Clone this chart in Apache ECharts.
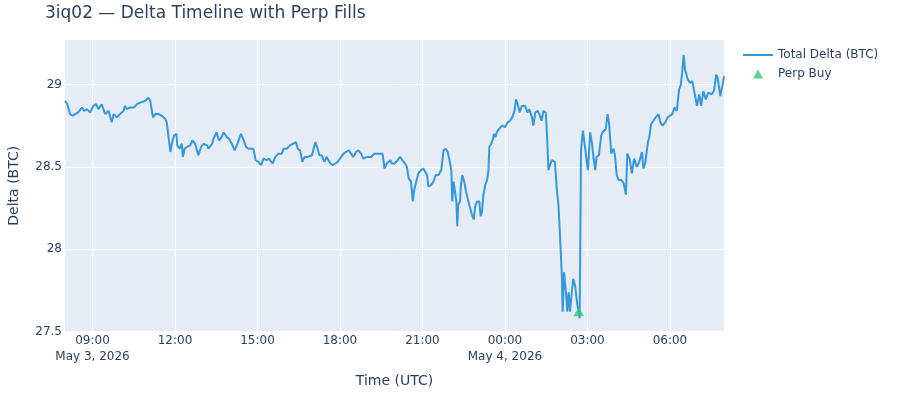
<!DOCTYPE html>
<html lang="en">
<head>
<meta charset="UTF-8">
<title>3iq02 — Delta Timeline with Perp Fills</title>
<script src="https://cdn.jsdelivr.net/npm/echarts@6/dist/echarts.min.js"></script>
<style>
  html, body { margin: 0; padding: 0; background: #fff; }
  #chart { width: 900px; height: 400px; }
</style>
</head>
<body>
<div id="chart"></div>
<script>
// total delta readings, May 3 2026 (UTC)
var may3Times = [
  '08:00','08:05','08:11','08:17','08:22','08:29','08:37','08:42','08:48','08:55',
  '09:02','09:08','09:13','09:20','09:24','09:28','09:35','09:39','09:42','09:46','09:53',
  '10:00','10:08','10:11','10:15','10:22','10:30','10:37','10:44','10:48','10:55',
  '11:02','11:06','11:12','11:17','11:24','11:31','11:39','11:42','11:46','11:50','11:53','11:58',
  '12:03','12:05','12:10','12:15','12:17','12:21','12:26','12:33','12:38','12:44','12:51','12:57',
  '13:02','13:10','13:13','13:21','13:24','13:31','13:36','13:42','13:46','13:53','13:58',
  '14:04','14:10','14:15','14:19','14:24','14:29','14:35','14:40','14:51','14:56',
  '15:02','15:08','15:13','15:20','15:25','15:33','15:39','15:46','15:53','15:57',
  '16:04','16:11','16:18','16:24','16:28','16:33','16:38','16:43','16:50','16:59',
  '17:06','17:10','17:15','17:20','17:26','17:31','17:39','17:44','17:50','17:55',
  '18:00','18:08','18:13','18:19','18:24','18:29','18:35','18:40','18:46','18:51','18:59',
  '19:08','19:15','19:24','19:33','19:37','19:42','19:50','19:53','19:59',
  '20:06','20:11','20:16','20:22','20:26','20:30','20:33','20:35','20:39','20:42','20:46','20:51','20:57',
  '21:02','21:06','21:10','21:13','21:19','21:24','21:29','21:35','21:41','21:46','21:51','21:55','21:59',
  '22:03','22:05','22:08','22:11','22:14','22:16','22:18','22:22','22:24','22:27','22:32','22:35','22:39',
  '22:42','22:48','22:52','22:55','22:59',
  '23:04','23:07','23:10','23:13','23:17','23:21','23:24','23:26','23:30','23:33','23:36','23:39',
  '23:42','23:46','23:50','23:55'
];
var may3Delta = [
  28.90,28.88,28.82,28.81,28.82,28.83,28.86,28.84,28.85,28.83,
  28.87,28.88,28.85,28.88,28.85,28.82,28.84,28.80,28.77,28.82,28.80,
  28.82,28.84,28.87,28.85,28.86,28.86,28.88,28.89,28.88,28.90,
  28.92,28.90,28.80,28.82,28.82,28.81,28.79,28.77,28.76,28.59,28.64,28.69,
  28.70,28.63,28.61,28.64,28.56,28.61,28.62,28.63,28.66,28.64,28.57,28.62,
  28.64,28.63,28.61,28.64,28.67,28.71,28.66,28.68,28.71,28.68,28.67,
  28.64,28.60,28.63,28.62,28.70,28.67,28.62,28.61,28.61,28.54,
  28.53,28.51,28.55,28.54,28.55,28.52,28.56,28.58,28.58,28.61,
  28.61,28.63,28.64,28.65,28.61,28.60,28.53,28.56,28.56,28.57,
  28.65,28.62,28.57,28.57,28.53,28.56,28.52,28.51,28.52,28.53,
  28.55,28.58,28.59,28.60,28.58,28.56,28.59,28.60,28.58,28.55,28.56,
  28.56,28.58,28.58,28.58,28.49,28.52,28.54,28.52,28.52,
  28.54,28.56,28.54,28.52,28.50,28.43,28.42,28.41,28.29,28.36,28.37,28.46,28.48,
  28.49,28.50,28.45,28.38,28.39,28.41,28.45,28.45,28.48,28.60,28.61,28.59,28.54,
  28.48,28.29,28.41,28.42,28.29,28.14,28.27,28.29,28.39,28.45,28.40,28.35,28.34,
  28.27,28.21,28.18,28.26,28.29,
  28.29,28.20,28.23,28.33,28.39,28.42,28.48,28.62,28.64,28.66,28.70,28.68,
  28.71,28.72,28.74,28.75
];
// total delta readings, May 4 2026 (UTC)
var may4Times = [
  '00:00','00:06','00:11','00:16','00:21','00:24','00:28','00:32','00:37','00:39','00:44','00:49','00:53','00:59',
  '01:02','01:06','01:11','01:15','01:20','01:24','01:29','01:31','01:35','01:39','01:42','01:46','01:49','01:53','01:57',
  '02:00','02:04','02:06','02:09','02:13','02:16','02:19','02:22','02:26','02:29','02:33','02:35','02:38','02:41','02:43',
  '02:46','02:50','02:53','02:56',
  '03:01','03:06','03:10','03:13','03:17','03:20','03:25','03:30','03:33','03:37','03:40','03:44','03:47','03:52','03:57',
  '04:00','04:04','04:08','04:14','04:19','04:24','04:27','04:32','04:37','04:42','04:48','04:53','04:59',
  '05:02','05:06','05:12','05:15','05:19','05:24','05:29','05:35','05:39','05:44','05:50','05:55',
  '06:00','06:05','06:10','06:15','06:20','06:24','06:27','06:30','06:33','06:39','06:44','06:49','06:55','06:59',
  '07:04','07:08','07:13','07:18','07:24','07:31','07:36','07:41','07:44','07:50','07:53','07:57','07:58'
];
var may4Delta = [
  28.74,28.77,28.78,28.80,28.84,28.91,28.88,28.83,28.87,28.88,28.87,28.83,28.85,28.80,
  28.75,28.83,28.84,28.82,28.78,28.84,28.83,28.74,28.48,28.47,28.54,28.55,28.53,28.37,28.26,
  28.09,27.85,27.62,27.86,27.74,27.62,27.74,27.62,27.74,27.82,27.78,27.79,27.66,27.62,27.58,
  28.60,28.72,28.73,28.59,
  28.48,28.71,28.64,28.56,28.48,28.56,28.57,28.69,28.71,28.70,28.73,28.82,28.77,28.58,28.61,
  28.57,28.45,28.42,28.42,28.40,28.33,28.58,28.55,28.46,28.55,28.50,28.53,28.59,
  28.49,28.52,28.65,28.68,28.76,28.78,28.80,28.82,28.77,28.75,28.77,28.80,
  28.81,28.82,28.86,28.84,28.97,29.00,29.08,29.18,29.09,29.03,29.01,29.02,28.93,28.87,
  28.94,28.87,28.96,28.91,28.95,28.94,28.96,29.06,29.04,28.93,28.92,29.03,29.05
];
// perp fills
var perpBuyTimes = ['2026-05-04 02:41'];
var perpBuyDelta = [27.62];

var xTickTimes = [
  '2026-05-03 09:00','2026-05-03 12:00','2026-05-03 15:00','2026-05-03 18:00',
  '2026-05-03 21:00','2026-05-04 00:00','2026-05-04 03:00','2026-05-04 06:00'
];
var yTicks = [27.5, 28, 28.5, 29];

var months = ['Jan','Feb','Mar','Apr','May','Jun','Jul','Aug','Sep','Oct','Nov','Dec'];

function toMs(s) {
  return Date.parse(s.replace(' ', 'T') + ':00Z');
}
function pad(n) { return (n < 10 ? '0' : '') + n; }

var deltaData = [];
may3Times.forEach(function (t, i) { deltaData.push([toMs('2026-05-03 ' + t), may3Delta[i]]); });
may4Times.forEach(function (t, i) { deltaData.push([toMs('2026-05-04 ' + t), may4Delta[i]]); });
var buyData = perpBuyTimes.map(function (t, i) { return [toMs(t), perpBuyDelta[i]]; });
var xTickMs = xTickTimes.map(toMs);

var FONT = 'DejaVu Sans, Verdana, sans-serif';
var INK = '#2a3f5f';

var chart = echarts.init(document.getElementById('chart'));
chart.setOption({
  animation: false,
  textStyle: { fontFamily: FONT },
  title: {
    text: '3iq02 — Delta Timeline with Perp Fills',
    left: 45,
    top: 5,
    padding: 0,
    textStyle: { fontFamily: FONT, fontSize: 17, fontWeight: 'normal', color: INK }
  },
  legend: {
    orient: 'vertical',
    left: 743,
    top: 48,
    padding: 0,
    itemWidth: 30,
    itemHeight: 9,
    itemGap: 5,
    textStyle: { fontFamily: FONT, fontSize: 12, color: INK, lineHeight: 14 },
    data: [
      // plain stroke, no point symbol
      { name: 'Total Delta (BTC)', icon: 'path://M0,0L30,0L30,2L0,2Z' },
      { name: 'Perp Buy', icon: 'path://M5,0L10,9L0,9Z' }
    ]
  },
  grid: {
    left: 65,
    top: 40,
    width: 659,
    height: 291.5,
    outerBoundsMode: 'none',
    show: true,
    backgroundColor: '#E5ECF6',
    borderWidth: 0
  },
  xAxis: {
    // timestamps in ms, plotted on a linear axis with our own tick list
    type: 'value',
    min: deltaData[0][0],
    max: deltaData[deltaData.length - 1][0],
    name: 'Time (UTC)',
    nameLocation: 'middle',
    nameGap: 43,
    nameTextStyle: { fontFamily: FONT, fontSize: 14, color: INK },
    axisLine: { show: false },
    axisTick: { show: false, customValues: xTickMs },
    splitLine: { show: true, lineStyle: { color: '#ffffff', width: 1 } },
    axisLabel: {
      customValues: xTickMs,
      margin: 1,
      fontFamily: FONT,
      fontSize: 12,
      color: INK,
      lineHeight: 16.5,
      formatter: function (v) {
        var d = new Date(v);
        var s = pad(d.getUTCHours()) + ':' + pad(d.getUTCMinutes());
        if (v === xTickMs[0] || d.getUTCHours() === 0) {
          s += '\n' + months[d.getUTCMonth()] + ' ' + d.getUTCDate() + ', ' + d.getUTCFullYear();
        }
        return s;
      }
    }
  },
  yAxis: {
    type: 'value',
    min: 27.5,
    max: 29.27,
    name: 'Delta (BTC)',
    nameLocation: 'middle',
    nameGap: 44,
    nameTextStyle: { fontFamily: FONT, fontSize: 14, color: INK },
    axisLine: { show: false },
    axisTick: { show: false, customValues: yTicks },
    splitLine: { show: true, lineStyle: { color: '#ffffff', width: 1 } },
    axisLabel: {
      customValues: yTicks,
      margin: 3,
      fontFamily: FONT,
      fontSize: 12,
      color: INK
    }
  },
  series: [
    {
      name: 'Total Delta (BTC)',
      type: 'line',
      data: deltaData,
      symbol: 'none',
      smooth: false,
      lineStyle: { color: '#3498db', width: 2 },
      itemStyle: { color: '#3498db' },
      z: 2
    },
    {
      name: 'Perp Buy',
      type: 'scatter',
      data: buyData,
      symbol: 'triangle',
      symbolSize: [11, 9],
      itemStyle: { color: '#2ecc71' },
      z: 3
    }
  ]
});
</script>
</body>
</html>
